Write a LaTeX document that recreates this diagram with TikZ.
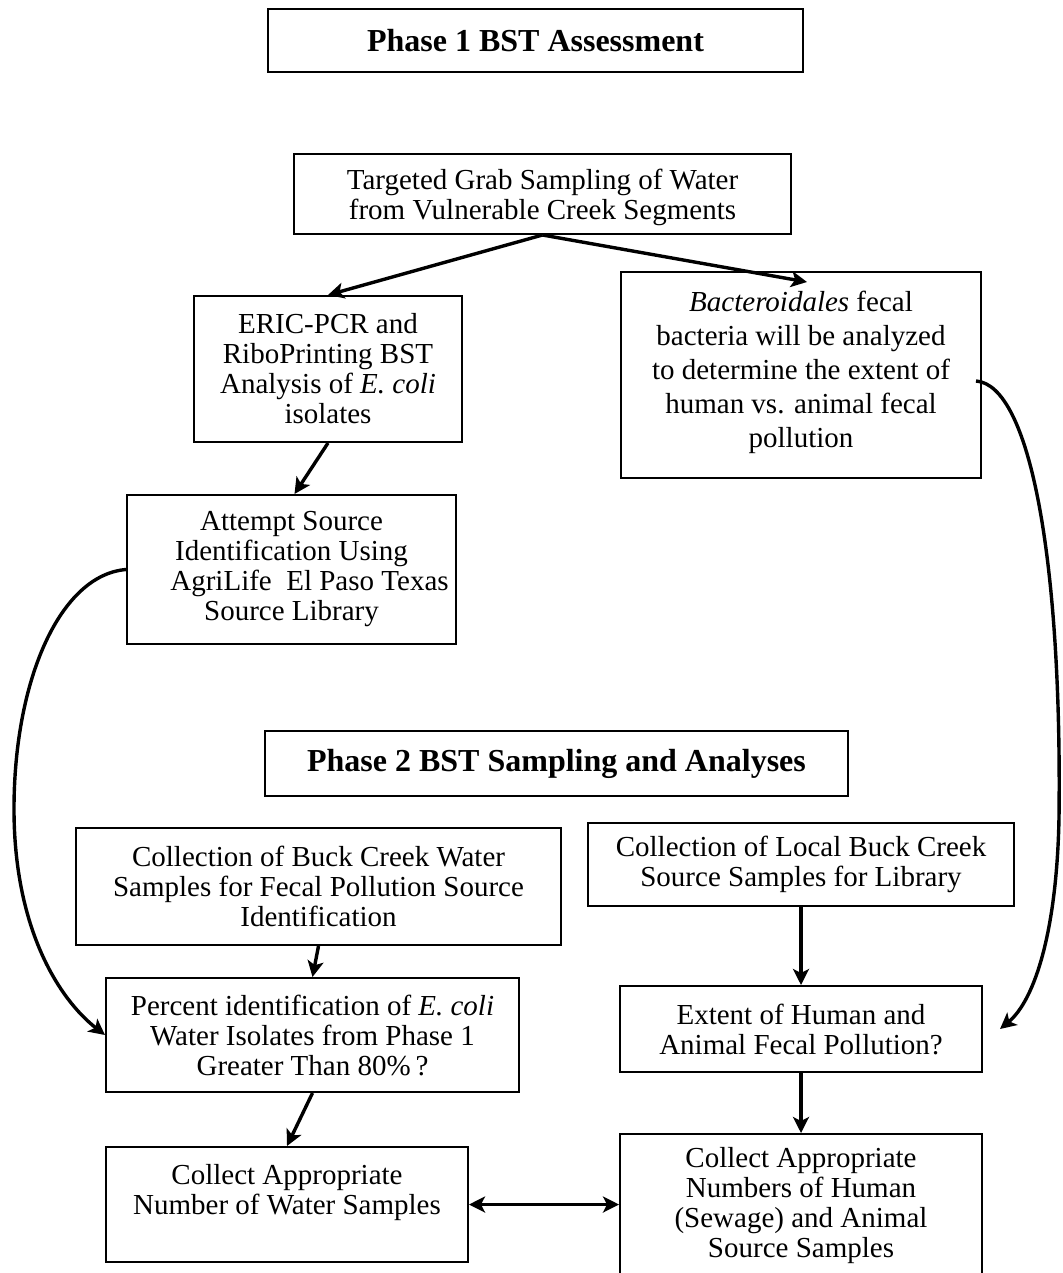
\documentclass[tikz,border=0pt]{standalone}
\usepackage{fontspec}
\setmainfont{Liberation Serif}
\usetikzlibrary{arrows.meta,calc}
\begin{document}
\begin{tikzpicture}[x=1pt,y=-1pt,
  box/.style={draw, line width=2pt, inner sep=0pt, align=center,
    font=\fontsize{29}{30}\selectfont},
  titlebox/.style={box, font=\bfseries\fontsize{32}{34}\selectfont},
  arr/.style={line width=3.4pt, -{Stealth[length=16pt,width=16pt,inset=4pt]}},
  darr/.style={line width=3.4pt, {Stealth[length=16pt,width=16pt,inset=4pt]}-{Stealth[length=16pt,width=16pt,inset=4pt]}}]
\useasboundingbox (0,0) rectangle (1062,1273);

\node[titlebox, minimum width=535pt, minimum height=63pt] (t1) at (535.5,40.5) {Phase 1 BST Assessment};
\node[box, minimum width=497pt, minimum height=80pt] (tg) at (542.5,194)
  {\rule{0pt}{28pt}Targeted Grab Sampling of Water\\from Vulnerable Creek Segments};
\node[box, minimum width=268pt, minimum height=146pt] (eric) at (328,369)
  {ERIC-PCR and\\RiboPrinting BST\\Analysis of \textit{E. coli}\\isolates};
\node[box, minimum width=360pt, minimum height=206pt,
  font=\fontsize{29}{34}\selectfont] (bact) at (801,375)
  {\textit{Bacteroidales} fecal\\bacteria will be analyzed\\to determine the extent of\\human vs. animal fecal\\pollution\\[-22pt]\mbox{}};
\node[box, minimum width=329pt, minimum height=149pt] (att) at (291.5,569.5)
  {Attempt Source\\Identification Using\\\hspace*{36pt}AgriLife\ \ El Paso Texas\\Source Library};

\node[titlebox, minimum width=583pt, minimum height=65pt] (t2) at (556.5,763.5) {Phase 2 BST Sampling and Analyses};
\node[box, minimum width=485pt, minimum height=117pt] (buck) at (318.5,886.5)
  {Collection of Buck Creek Water\\Samples for Fecal Pollution Source\\Identification};
\node[box, minimum width=426pt, minimum height=83pt] (local) at (801,864.5)
  {Collection of Local Buck Creek\\Source Samples for Library};
\node[box, minimum width=413pt, minimum height=114pt] (pct) at (312.5,1035)
  {Percent identification of \textit{E. coli}\\Water Isolates from Phase 1\\Greater Than 80\%\,?};
\node[box, minimum width=362pt, minimum height=86pt] (ext) at (801,1029)
  {Extent of Human and\\Animal Fecal Pollution?};
\node[box, minimum width=362pt, minimum height=115pt] (water) at (287,1204.5)
  {Collect Appropriate\\Number of Water Samples\\\mbox{}};
\node[box, minimum width=362pt, minimum height=144pt] (num) at (801,1206)
  {Collect Appropriate\\Numbers of Human\\(Sewage) and Animal\\Source Samples};

\coordinate (rtip) at (1000,1029);

\draw[arr] (tg.south) -- (eric.north);
\draw[arr] (tg.south) -- ($(bact.north)+(6,11)$);
\draw[arr] (eric.south) -- ([xshift=3pt]att.north);
\draw[arr] (att.west) .. controls (60,575) and (14,680) .. (14,809)
  .. controls (14,930) and (60,1000) .. (pct.west);
\draw[arr] ($(bact.east)+(-6,6)$) .. controls (1030,385) and (1062,560) .. (1059,817)
  .. controls (1057,930) and (1035,1000) .. (rtip);
\draw[arr] (buck.south) -- (pct.north);
\draw[arr] (local.south) -- (ext.north);
\draw[arr] (ext.south) -- (num.north);
\draw[arr] (pct.south) -- (water.north);
\draw[darr] (water.east) -- (water.east -| num.west);
\end{tikzpicture}
\end{document}
